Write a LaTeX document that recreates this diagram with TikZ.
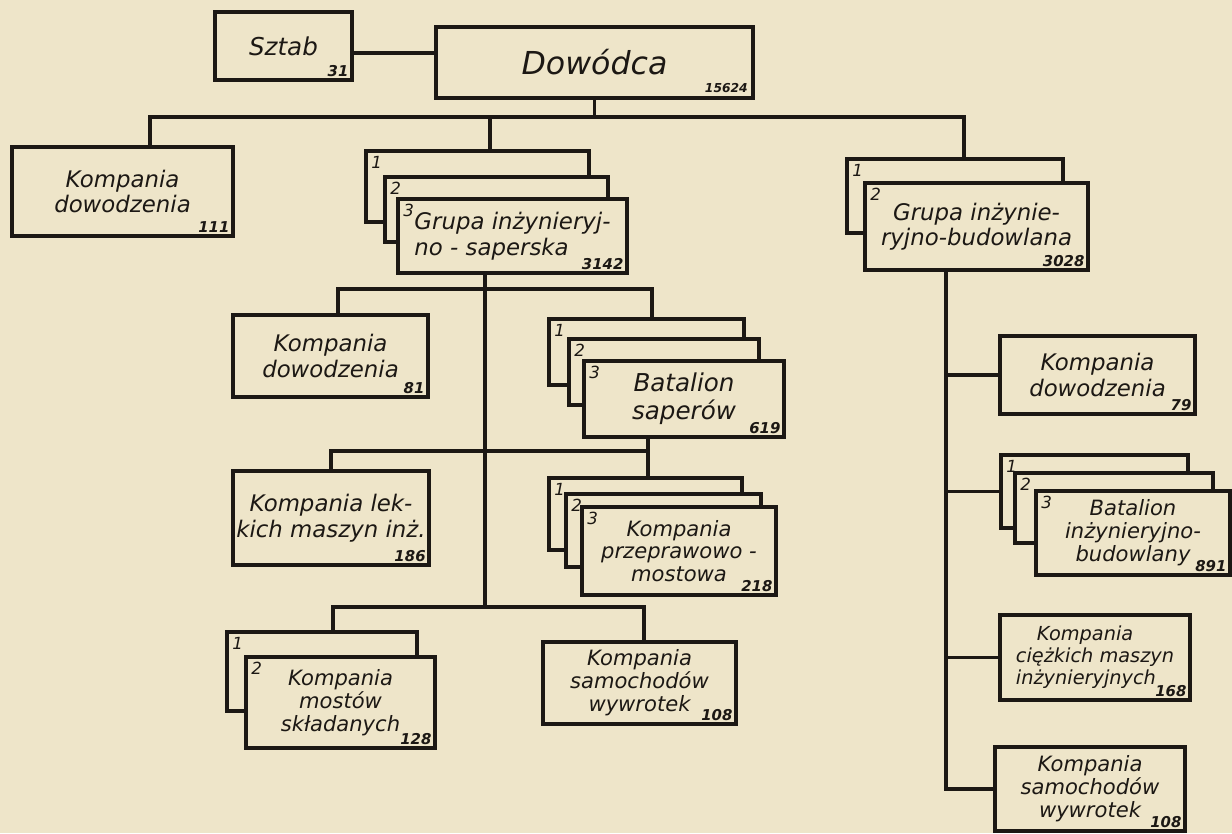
\documentclass[tikz,border=0pt]{standalone}
\usepackage{fontspec}
\setmainfont{DejaVu Sans}

\definecolor{paper}{RGB}{238,229,201}
\definecolor{ink}{RGB}{28,24,20}

\begin{document}
\begin{tikzpicture}[x=0.02cm, y=-0.02cm, color=ink, line width=2.2pt,
    unit/.style = {draw, fill=paper, align=center, inner sep=2pt, font=\fontsize{13}{14.5}\selectfont\itshape},
    tri/.style = {font=\fontsize{12}{13}\selectfont\itshape},
    dims/.style 2 args = {minimum width=#1*0.02cm, minimum height=#2*0.02cm},
    num/.style = {label={[anchor=south east, inner sep=2pt, font=\fontsize{8.5}{9}\selectfont\bfseries\itshape]south east:#1}},
    idx/.style = {label={[anchor=north west, inner sep=3pt, font=\fontsize{9.5}{10}\selectfont\itshape]north west:#1}}]

    \useasboundingbox (0,0) rectangle (1232,833);
    \fill[paper] (0,0) rectangle (1232,833);

    % command
    \node[unit, dims={137}{68}, font=\fontsize{14}{16}\selectfont\itshape, num=31] (sztab) at (283.5,46) {Sztab};
    \node[unit, dims={317}{71}, font=\fontsize{18}{20}\selectfont\itshape,
          label={[anchor=south east, inner sep=3pt, font=\fontsize{7}{8}\selectfont\bfseries\itshape]south east:15624}] (dowodca) at (594.5,62.5) {Dowódca};

    % first level
    \node[unit, dims={221}{89}, num=111] (kdow1) at (122.5,191.5) {Kompania\\dowodzenia};

    \node[unit, dims={223}{71}, idx=1] (gs1) at (477.5,186.5) {};
    \node[unit, dims={223}{65}, idx=2] (gs2) at (496.5,209.5) {};
    \node[unit, dims={229}{74}, idx=3, num=3142, align=left] (gs3) at (512.5,236) {Grupa inżynieryj-\\no - saperska};

    \node[unit, dims={216}{74}, idx=1] (gb1) at (955,196) {};
    \node[unit, dims={223}{87}, idx=2, num=3028] (gb2) at (976.5,226.5) {Grupa inżynie-\\ryjno-budowlana};

    % under the sapper group
    \node[unit, dims={195}{82}, num=81] (kdow2) at (330.5,356) {Kompania\\dowodzenia};

    \node[unit, dims={195}{66}, idx=1] (bs1) at (646.5,352) {};
    \node[unit, dims={190}{66}, idx=2] (bs2) at (664,372) {};
    \node[unit, dims={200}{76}, idx=3, num=619, font=\fontsize{14}{16}\selectfont\itshape] (bs3) at (684,399) {Batalion\\saperów};

    \node[unit, dims={188}{94}, num=186] (klek) at (331,518) {Kompania lek-\\kich maszyn inż.};

    \node[unit, dims={193}{72}, idx=1] (pp1) at (645.5,514) {};
    \node[unit, dims={195}{73}, idx=2] (pp2) at (663.5,530.5) {};
    \node[unit, tri, dims={194}{88}, idx=3, num=218] (pp3) at (679,551) {Kompania\\przeprawowo -\\mostowa};

    \node[unit, dims={190}{79}, idx=1] (km1) at (322,671.5) {};
    \node[unit, tri, dims={189}{91}, idx=2, num=128] (km2) at (340.5,702.5) {Kompania\\mostów\\składanych};

    \node[unit, tri, dims={193}{82}, num=108] (ksw1) at (639.5,683) {Kompania\\samochodów\\wywrotek};

    % under the construction group
    \node[unit, dims={195}{78}, num=79] (kdow3) at (1097.5,375) {Kompania\\dowodzenia};

    \node[unit, dims={187}{73}, idx=1] (bb1) at (1094.5,491.5) {};
    \node[unit, dims={198}{70}, idx=2] (bb2) at (1114,508) {};
    \node[unit, tri, dims={194}{84}, idx=3, num=891] (bb3) at (1133,533) {Batalion\\inżynieryjno-\\budowlany};

    \node[unit, dims={190}{85}, num=168, align=left, font=\fontsize{11}{12.5}\selectfont\itshape] (kcm) at (1095,657.5) {\hspace*{12pt}Kompania\\ciężkich maszyn\\inżynieryjnych};

    \node[unit, tri, dims={190}{84}, num=108] (ksw2) at (1090,789) {Kompania\\samochodów\\wywrotek};

    % connectors
    \coordinate (b1l) at (150,117);
    \coordinate (b1m) at (490,117);
    \coordinate (b1r) at (964,117);
    \coordinate (b2l) at (338,289);
    \coordinate (b2m) at (485,289);
    \coordinate (b2r) at (652,289);
    \coordinate (b3l) at (331,451);
    \coordinate (b3r) at (648,451);
    \coordinate (b4l) at (333,607);
    \coordinate (b4r) at (644,607);
    \coordinate (trunk) at (946,788);

    \draw ([yshift=-0.14cm]sztab.east) -- ([yshift=-0.14cm]sztab.east -| dowodca.west);
    \draw (dowodca.south) -- (dowodca.south |- b1l);
    \draw (b1l |- kdow1.north) -- (b1l) -- (b1r) -- (b1r |- gb1.north);
    \draw (b1m) -- (b1m |- gs1.north);

    \draw (b2m |- gs3.south) -- (b2m |- b4l);
    \draw (b2l |- kdow2.north) -- (b2l) -- (b2r) -- (b2r |- bs1.north);
    \draw (b3l |- klek.north) -- (b3l) -- (b3r);
    \draw (b3r |- bs3.south) -- (b3r |- pp1.north);
    \draw (b4l |- km1.north) -- (b4l) -- (b4r) -- (b4r |- ksw1.north);

    \draw (trunk |- gb2.south) -- (trunk |- ksw2.west) -- (ksw2.west);
    \foreach \n in {kdow3, bb1, kcm}
        \draw (trunk |- \n.west) -- (\n.west);

\end{tikzpicture}
\end{document}
